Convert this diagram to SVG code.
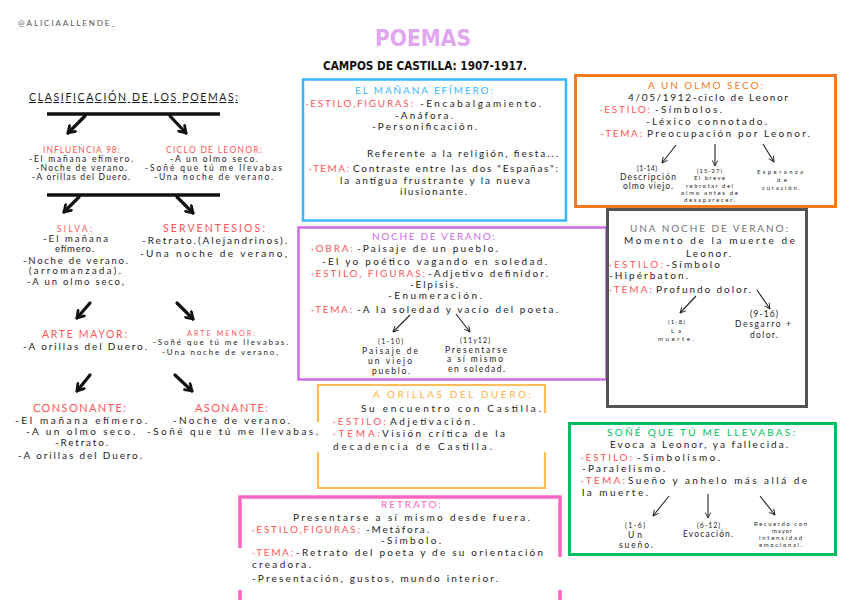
<svg xmlns="http://www.w3.org/2000/svg" width="848" height="600" viewBox="0 0 848 600">
<defs>
<style>
.t{font-family:Lato,"Noto Sans","Liberation Sans",sans-serif;font-size:10px;fill:#1e1e1e}
.s{font-size:8.5px}
.xs{font-size:7px}
.xxs{font-size:6px}
.r{fill:#ff5757}
.box{fill:none}
.bar{stroke:#111;stroke-width:3.5;stroke-linecap:butt}
.ak{stroke:#111;stroke-width:3.2;fill:none;stroke-linecap:round;marker-end:url(#hk)}
.an{stroke:#222;stroke-width:1.1;fill:none;marker-end:url(#hn)}
</style>
<marker id="hk" viewBox="0 0 12 12" refX="9" refY="6" markerWidth="11" markerHeight="11" markerUnits="userSpaceOnUse" orient="auto"><path d="M2,1.5 L9,6 L2,10.5" fill="none" stroke="#111" stroke-width="3" stroke-linecap="round" stroke-linejoin="round"/></marker>
<marker id="hn" viewBox="0 0 10 10" refX="9" refY="5" markerWidth="7" markerHeight="7" markerUnits="userSpaceOnUse" orient="auto"><path d="M1,1 L9,5 L1,9" fill="none" stroke="#222" stroke-width="1.3"/></marker>
</defs>
<rect width="848" height="600" fill="#ffffff"/>

<g id="header">
<text class="t" x="18" y="26" style="font-size:8px;fill:#555" textLength="97" lengthAdjust="spacing">@ALICIAALLENDE_</text>
<text x="375" y="46" style="font-family:'DejaVu Sans Condensed','DejaVu Sans',sans-serif;font-weight:bold;font-size:23px;fill:#e2a6f1" textLength="96" lengthAdjust="spacingAndGlyphs">POEMAS</text>
<text x="323" y="70" style="font-family:'DejaVu Sans Condensed','DejaVu Sans',sans-serif;font-weight:bold;font-size:11.5px;fill:#111" textLength="204" lengthAdjust="spacingAndGlyphs">CAMPOS DE CASTILLA: 1907-1917.</text>
</g>

<g id="clasificacion">
<text class="t" style="font-size:10.5px" x="29" y="101" textLength="209" lengthAdjust="spacing" text-decoration="underline">CLASIFICACIÓN DE LOS POEMAS:</text>
</g>

<g id="influencia98">
<text class="t s r" x="43" y="153" textLength="77" lengthAdjust="spacing">INFLUENCIA 98:</text>
<text class="t s" x="29" y="162" textLength="104" lengthAdjust="spacing">-El mañana efímero.</text>
<text class="t s" x="36" y="171" textLength="91" lengthAdjust="spacing">-Noche de verano.</text>
<text class="t s" x="32" y="180" textLength="98" lengthAdjust="spacing">-A orillas del Duero.</text>
</g>

<g id="cicloleonor">
<text class="t s r" x="166" y="153" textLength="96" lengthAdjust="spacing">CICLO DE LEONOR:</text>
<text class="t s" x="170" y="162" textLength="88" lengthAdjust="spacing">-A un olmo seco.</text>
<text class="t s" x="145" y="171" textLength="137" lengthAdjust="spacing">-Soñé que tú me llevabas</text>
<text class="t s" x="154" y="180" textLength="119" lengthAdjust="spacing">-Una noche de verano.</text>
</g>

<g id="silva">
<text class="t s r" x="57" y="232" textLength="35" lengthAdjust="spacing">SILVA:</text>
<text class="t" style="font-size:9.5px" x="43" y="242" textLength="65" lengthAdjust="spacing">-El mañana</text>
<text class="t" style="font-size:9.5px" x="55" y="252" textLength="39" lengthAdjust="spacing">efímero.</text>
<text class="t" style="font-size:9.5px" x="23" y="264" textLength="105" lengthAdjust="spacing">-Noche de verano.</text>
<text class="t" style="font-size:9.5px" x="29" y="274" textLength="92" lengthAdjust="spacing">(arromanzada).</text>
<text class="t" style="font-size:9.5px" x="27" y="285" textLength="97" lengthAdjust="spacing">-A un olmo seco,</text>
</g>

<g id="serventesios">
<text class="t r" style="font-size:10.5px" x="163" y="232" textLength="102" lengthAdjust="spacing">SERVENTESIOS:</text>
<text class="t" x="142" y="244" textLength="145" lengthAdjust="spacing">-Retrato.(Alejandrinos).</text>
<text class="t" x="140" y="257" textLength="147" lengthAdjust="spacing">-Una noche de verano,</text>
</g>

<g id="artemayor">
<text class="t r" style="font-size:10.5px" x="42" y="338" textLength="85" lengthAdjust="spacing">ARTE MAYOR:</text>
<text class="t" x="23" y="350" textLength="124" lengthAdjust="spacing">-A orillas del Duero.</text>
</g>

<g id="artemenor">
<text class="t xs r" x="187" y="336" textLength="68" lengthAdjust="spacing">ARTE MENOR:</text>
<text class="t" style="font-size:8px" x="153" y="345" textLength="135" lengthAdjust="spacing">-Soñé que tú me llevabas.</text>
<text class="t" style="font-size:8px" x="162" y="355" textLength="116" lengthAdjust="spacing">-Una noche de verano,</text>
</g>

<g id="consonante">
<text class="t r" style="font-size:11px" x="33" y="412" textLength="93" lengthAdjust="spacing">CONSONANTE:</text>
<text class="t" x="15" y="424" textLength="132" lengthAdjust="spacing">-El mañana efímero.</text>
<text class="t" x="26" y="435" textLength="109" lengthAdjust="spacing">-A un olmo seco.</text>
<text class="t" x="55" y="446" textLength="53" lengthAdjust="spacing">-Retrato.</text>
<text class="t" x="18" y="459" textLength="124" lengthAdjust="spacing">-A orillas del Duero.</text>
</g>

<g id="asonante">
<text class="t r" style="font-size:11px" x="195" y="412" textLength="73" lengthAdjust="spacing">ASONANTE:</text>
<text class="t" x="173" y="424" textLength="117" lengthAdjust="spacing">-Noche de verano.</text>
<text class="t" x="147" y="435" textLength="171" lengthAdjust="spacing">-Soñé que tú me llevabas.</text>
</g>

<g id="manana-efimero">
<rect class="box" x="303" y="79.5" width="263" height="141" stroke="#38b6ff" stroke-width="2.5"/>
<text class="t" style="fill:#38b6ff" x="355" y="94" textLength="138" lengthAdjust="spacing">EL MAÑANA EFÍMERO:</text>
<text class="t r" x="306" y="107" textLength="107" lengthAdjust="spacing">·ESTILO,FIGURAS:</text>
<text class="t" x="420" y="107" textLength="121" lengthAdjust="spacing">-Encabalgamiento.</text>
<text class="t" x="395" y="119" textLength="58" lengthAdjust="spacing">-Anáfora.</text>
<text class="t" x="372" y="130" textLength="105" lengthAdjust="spacing">-Personificación.</text>
<text class="t" x="367" y="157" textLength="191" lengthAdjust="spacing">Referente a la religión, fiesta...</text>
<text class="t r" x="309" y="172" textLength="40" lengthAdjust="spacing">·TEMA:</text>
<text class="t" x="353" y="172" textLength="205" lengthAdjust="spacing">Contraste entre las dos "Españas":</text>
<text class="t" x="340" y="184" textLength="190" lengthAdjust="spacing">la antigua frustrante y la nueva</text>
<text class="t" x="400" y="195" textLength="67" lengthAdjust="spacing">ilusionante.</text>
</g>

<g id="olmo-seco">
<rect class="box" x="575.5" y="75.5" width="260" height="131" stroke="#f47b20" stroke-width="3"/>
<text class="t" style="fill:#f47b20" x="648" y="89" textLength="115" lengthAdjust="spacing">A UN OLMO SECO:</text>
<text class="t" x="628" y="101" textLength="160" lengthAdjust="spacing">4/05/1912-ciclo de Leonor</text>
<text class="t r" x="600" y="113" textLength="50" lengthAdjust="spacing">·ESTILO:</text>
<text class="t" x="655" y="113" textLength="67" lengthAdjust="spacing">-Símbolos.</text>
<text class="t" x="646" y="125" textLength="121" lengthAdjust="spacing">-Léxico connotado.</text>
<text class="t r" x="601" y="137" textLength="41" lengthAdjust="spacing">·TEMA:</text>
<text class="t" x="647" y="137" textLength="163" lengthAdjust="spacing">Preocupación por Leonor.</text>
<text class="t xs" x="637" y="171" textLength="20" lengthAdjust="spacing">(1-14)</text>
<text class="t s" x="620" y="180" textLength="56" lengthAdjust="spacing">Descripción</text>
<text class="t s" x="623" y="189" textLength="50" lengthAdjust="spacing">olmo viejo.</text>
<text class="t xxs" x="697" y="173" textLength="25" lengthAdjust="spacing">(15-27)</text>
<text class="t xxs" x="694" y="180" textLength="31" lengthAdjust="spacing">El breve</text>
<text class="t xxs" x="686" y="188" textLength="47" lengthAdjust="spacing">rebrotar del</text>
<text class="t xxs" x="681" y="195" textLength="57" lengthAdjust="spacing">olmo antes de</text>
<text class="t xxs" x="684" y="202" textLength="51" lengthAdjust="spacing">desaparecer.</text>
<text class="t xxs" x="757" y="174" textLength="46" lengthAdjust="spacing">Esperanza</text>
<text class="t xxs" x="777" y="182" textLength="10" lengthAdjust="spacing">de</text>
<text class="t xxs" x="762" y="190" textLength="38" lengthAdjust="spacing">curación.</text>
</g>

<g id="noche-verano">
<rect class="box" x="298.5" y="227.5" width="308" height="152" stroke="#cb6ce6" stroke-width="2.5"/>
<text class="t" style="fill:#cb6ce6" x="372" y="240" textLength="123" lengthAdjust="spacing">NOCHE DE VERANO:</text>
<text class="t r" x="311" y="252" textLength="42" lengthAdjust="spacing">·OBRA:</text>
<text class="t" x="357" y="252" textLength="141" lengthAdjust="spacing">-Paisaje de un pueblo.</text>
<text class="t" x="322" y="265" textLength="225" lengthAdjust="spacing">-El yo poético vagando en soledad.</text>
<text class="t r" x="311" y="277" textLength="114" lengthAdjust="spacing">·ESTILO, FIGURAS:</text>
<text class="t" x="428" y="277" textLength="120" lengthAdjust="spacing">-Adjetivo definidor.</text>
<text class="t" x="410" y="288" textLength="48" lengthAdjust="spacing">-Elpisis.</text>
<text class="t" x="388" y="299" textLength="94" lengthAdjust="spacing">-Enumeración.</text>
<text class="t r" x="311" y="313" textLength="41" lengthAdjust="spacing">·TEMA:</text>
<text class="t" x="357" y="313" textLength="201" lengthAdjust="spacing">-A la soledad y vacío del poeta.</text>
<text class="t xs" x="378" y="344" textLength="25" lengthAdjust="spacing">(1-10)</text>
<text class="t s" x="362" y="354" textLength="56" lengthAdjust="spacing">Paisaje de</text>
<text class="t s" x="368" y="364" textLength="44" lengthAdjust="spacing">un viejo</text>
<text class="t s" x="372" y="374" textLength="38" lengthAdjust="spacing">pueblo.</text>
<text class="t xs" x="460" y="343" textLength="30" lengthAdjust="spacing">(11y12)</text>
<text class="t s" x="445" y="353" textLength="62" lengthAdjust="spacing">Presentarse</text>
<text class="t s" x="447" y="362" textLength="56" lengthAdjust="spacing">a sí mismo</text>
<text class="t s" x="448" y="372" textLength="57" lengthAdjust="spacing">en soledad.</text>
</g>

<g id="una-noche-verano">
<rect class="box" x="607.5" y="209.5" width="199" height="197" stroke="#545454" stroke-width="3"/>
<text class="t" style="fill:#737373" x="630" y="232" textLength="158" lengthAdjust="spacing">UNA NOCHE DE VERANO:</text>
<text class="t" x="624" y="244" textLength="171" lengthAdjust="spacing">Momento de la muerte de</text>
<text class="t" x="686" y="257" textLength="45" lengthAdjust="spacing">Leonor.</text>
<text class="t r" x="609" y="268" textLength="54" lengthAdjust="spacing">·ESTILO:</text>
<text class="t" x="666" y="268" textLength="54" lengthAdjust="spacing">-Símbolo</text>
<text class="t" x="609" y="279" textLength="79" lengthAdjust="spacing">-Hipérbaton.</text>
<text class="t r" x="609" y="293" textLength="43" lengthAdjust="spacing">·TEMA:</text>
<text class="t" x="656" y="293" textLength="95" lengthAdjust="spacing">Profundo dolor.</text>
<text class="t xxs" x="668" y="324" textLength="17" lengthAdjust="spacing">(1-8)</text>
<text class="t xxs" x="671" y="333" textLength="10" lengthAdjust="spacing">La</text>
<text class="t xxs" x="658" y="341" textLength="36" lengthAdjust="spacing">muerte.</text>
<text class="t s" x="750" y="317" textLength="28" lengthAdjust="spacing">(9-16)</text>
<text class="t s" x="735" y="327" textLength="56" lengthAdjust="spacing">Desgarro +</text>
<text class="t s" x="750" y="338" textLength="28" lengthAdjust="spacing">dolor.</text>
</g>

<g id="orillas-duero">
<path class="box" d="M318,422 V385 H545 V413 M545,452 V488 H318 V452" stroke="#ffbd59" stroke-width="2.2"/>
<text class="t" style="fill:#ffb347" x="373" y="398" textLength="158" lengthAdjust="spacing">A ORILLAS DEL DUERO:</text>
<text class="t" x="361" y="412" textLength="180" lengthAdjust="spacing">Su encuentro con Castilla.</text>
<text class="t r" x="333" y="425" textLength="53" lengthAdjust="spacing">·ESTILO:</text>
<text class="t" x="390" y="425" textLength="85" lengthAdjust="spacing">Adjetivación.</text>
<text class="t r" x="333" y="437" textLength="47" lengthAdjust="spacing">·TEMA:</text>
<text class="t" x="382" y="437" textLength="123" lengthAdjust="spacing">Visión crítica de la</text>
<text class="t" x="333" y="450" textLength="159" lengthAdjust="spacing">decadencia de Castilla.</text>
</g>

<g id="sone-llevabas">
<rect class="box" x="569.5" y="423.5" width="266" height="131" stroke="#00bf63" stroke-width="3"/>
<text class="t" style="fill:#00bf63" x="607" y="436" textLength="188" lengthAdjust="spacing">SOÑÉ QUE TÚ ME LLEVABAS:</text>
<text class="t" x="610" y="448" textLength="178" lengthAdjust="spacing">Evoca a Leonor, ya fallecida.</text>
<text class="t r" x="581" y="461" textLength="51" lengthAdjust="spacing">·ESTILO:</text>
<text class="t" x="637" y="461" textLength="83" lengthAdjust="spacing">-Simbolismo.</text>
<text class="t" x="582" y="472" textLength="83" lengthAdjust="spacing">-Paralelismo.</text>
<text class="t r" x="581" y="484" textLength="44" lengthAdjust="spacing">·TEMA:</text>
<text class="t" x="628" y="484" textLength="179" lengthAdjust="spacing">Sueño y anhelo más allá de</text>
<text class="t" x="582" y="496" textLength="66" lengthAdjust="spacing">la muerte.</text>
<text class="t xs" x="625" y="528" textLength="20" lengthAdjust="spacing">(1-6)</text>
<text class="t s" x="628" y="538" textLength="14" lengthAdjust="spacing">Un</text>
<text class="t s" x="619" y="548" textLength="34" lengthAdjust="spacing">sueño.</text>
<text class="t xs" x="697" y="528" textLength="23" lengthAdjust="spacing">(6-12)</text>
<text class="t s" x="683" y="537" textLength="50" lengthAdjust="spacing">Evocación.</text>
<text class="t xxs" x="754" y="526" textLength="53" lengthAdjust="spacing">Recuerdo con</text>
<text class="t xxs" x="772" y="533" textLength="20" lengthAdjust="spacing">mayor</text>
<text class="t xxs" x="759" y="540" textLength="43" lengthAdjust="spacing">intensidad</text>
<text class="t xxs" x="759" y="547" textLength="43" lengthAdjust="spacing">emocional.</text>
</g>

<g id="retrato">
<path class="box" d="M240,548 V497 H560 V557 M560,590 V600 M240,590 V600" stroke="#ff66c4" stroke-width="3.5"/>
<text class="t" style="fill:#ff66c4" x="381" y="508" textLength="60" lengthAdjust="spacing">RETRATO:</text>
<text class="t" x="293" y="521" textLength="237" lengthAdjust="spacing">Presentarse a sí mismo desde fuera.</text>
<text class="t r" x="252" y="533" textLength="108" lengthAdjust="spacing">·ESTILO,FIGURAS:</text>
<text class="t" x="366" y="533" textLength="63" lengthAdjust="spacing">-Metáfora.</text>
<text class="t" x="381" y="544" textLength="60" lengthAdjust="spacing">-Símbolo.</text>
<text class="t r" x="252" y="556" textLength="41" lengthAdjust="spacing">·TEMA:</text>
<text class="t" x="296" y="556" textLength="247" lengthAdjust="spacing">-Retrato del poeta y de su orientación</text>
<text class="t" x="252" y="568" textLength="59" lengthAdjust="spacing">creadora.</text>
<text class="t" x="252" y="582" textLength="246" lengthAdjust="spacing">-Presentación, gustos, mundo interior.</text>
</g>

<g id="connectors">
<line class="bar" x1="47" y1="114" x2="220" y2="114"/>
<path class="ak" d="M85,116 L68,133"/>
<path class="ak" d="M170,116 L186,133"/>
<line class="bar" x1="47" y1="195" x2="220" y2="195"/>
<path class="ak" d="M79,197 L64,212"/>
<path class="ak" d="M177,197 L193,213"/>
<path class="ak" d="M90,303 L77,318"/>
<path class="ak" d="M177,303 L193,319"/>
<path class="ak" d="M90,375 L77,391"/>
<path class="ak" d="M175,375 L192,391"/>
<path class="an" d="M676,145 L662,163"/>
<path class="an" d="M715,144 L715,166"/>
<path class="an" d="M763,144 L774,162"/>
<path class="an" d="M410,315 L393,332"/>
<path class="an" d="M456,314 L470,332"/>
<path class="an" d="M696,296 L680,313"/>
<path class="an" d="M757,290 L770,309"/>
<path class="an" d="M669,496 L653,516"/>
<path class="an" d="M708,494 L708,518"/>
<path class="an" d="M760,496 L775,515"/>
</g>
</svg>
